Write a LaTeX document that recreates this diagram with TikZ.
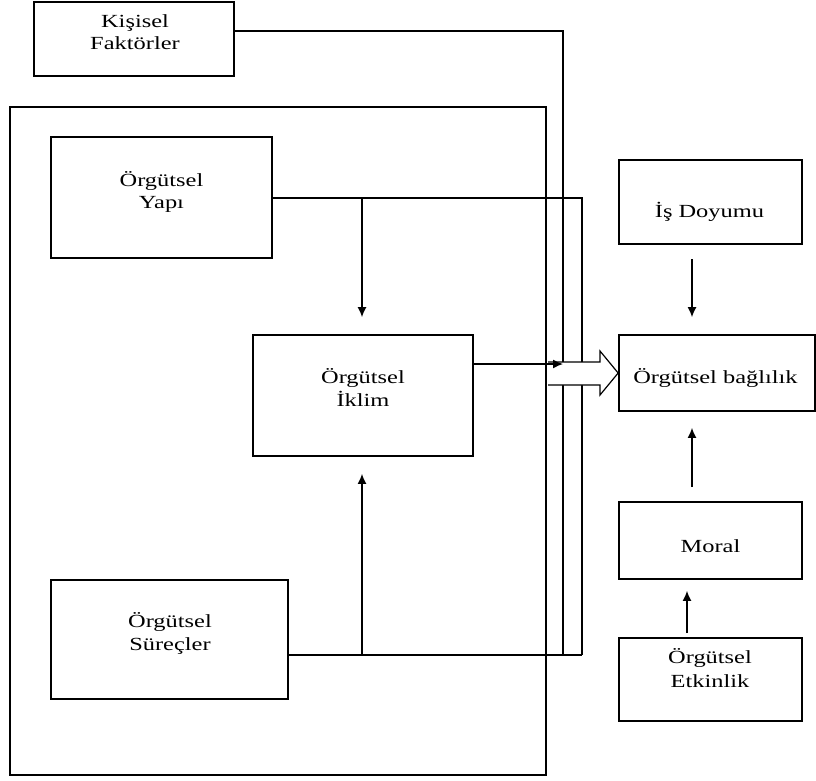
\documentclass[tikz,border=0pt]{standalone}
\usepackage{fontspec}
\setmainfont{Liberation Serif}[FakeStretch=1.32]
\usetikzlibrary{arrows.meta}
\begin{document}
\begin{tikzpicture}[x=1pt,y=-1pt,
  box/.style={draw,line width=1.7pt,inner sep=0pt,rectangle},
  lbl/.style={anchor=base,inner sep=0pt,font=\fontsize{18.5}{22}\selectfont},
  conn/.style={line width=1.5pt},
  arr/.style={line width=1.4pt,-{Latex[length=10pt,width=9pt]}},
  hollow/.style={line width=1.2pt}]
\useasboundingbox (0,0) rectangle (816,780);
% boxes
\node[box,minimum width=536pt,minimum height=668pt] (big) at (278,441) {};
\node[box,minimum width=200pt,minimum height=74pt] (kisisel) at (134,39) {};
\node[box,minimum width=221pt,minimum height=121pt] (yapi) at (161.5,197.5) {};
\node[box,minimum width=220pt,minimum height=121pt] (iklim) at (363,395.5) {};
\node[box,minimum width=237pt,minimum height=119pt] (surec) at (169.5,639.5) {};
\node[box,minimum width=183pt,minimum height=84pt] (doyum) at (710.5,202) {};
\node[box,minimum width=196pt,minimum height=76pt] (bagli) at (717,373) {};
\node[box,minimum width=183pt,minimum height=77pt] (moral) at (710.5,540.5) {};
\node[box,minimum width=183pt,minimum height=83pt] (etkin) at (710.5,679.5) {};
% texts
\node[lbl] (kisiselA) at (135,27) {Kişisel};
\node[lbl] (kisiselB) at (135,49) {Faktörler};
\node[lbl] (yapiA) at (161.5,186) {Örgütsel};
\node[lbl] (yapiB) at (161.5,208) {Yapı};
\node[lbl] (iklimA) at (363,383) {Örgütsel};
\node[lbl] (iklimB) at (363,406) {İklim};
\node[lbl] (surecA) at (170,627) {Örgütsel};
\node[lbl] (surecB) at (170,650) {Süreçler};
\node[lbl] (doyumT) at (709.5,217) {İş Doyumu};
\node[lbl] (bagliT) at (715.5,383) {Örgütsel bağlılık};
\node[lbl] (moralT) at (710.5,552) {Moral};
\node[lbl] (etkinA) at (710,663) {Örgütsel};
\node[lbl] (etkinB) at (710,687) {Etkinlik};
% coordinates
\coordinate (kx) at (563,31);
\coordinate (ky) at (563,655);
\coordinate (yx) at (582,198);
\coordinate (yb) at (582,655);
\coordinate (yj) at (362,198);
\coordinate (sj) at (362,655);
\coordinate (ia) at (563,364);
\coordinate (d1) at (692,259);
\coordinate (m1) at (692,487);
\coordinate (e1) at (687,633);
% connectors
\draw[conn] (kisisel.east |- kx) -- (kx) -- (ky);
\draw[conn] (yapi.east |- yx) -- (yx) -- (yb);
\draw[conn] (surec.east |- yb) -- (yb);
\draw[arr,shorten >=17pt] (yj) -- (iklim.north -| yj);
\draw[arr,shorten >=17pt] (sj) -- (iklim.south -| sj);
% hollow arrow
\coordinate (h0) at (548,362);
\fill[white] (h0) -- (600,362) -- (600,351) -- (bagli.west) -- (600,395) -- (600,385) -- (548,385) -- cycle;
\draw[hollow] (h0) -- (600,362) -- (600,351) -- (bagli.west) -- (600,395) -- (600,385) -- (548,385);
\draw[arr] (iklim.east |- ia) -- (ia);
% right column arrows
\draw[arr,shorten >=17pt] (d1) -- (d1 |- bagli.north);
\draw[arr,shorten >=16pt] (m1) -- (m1 |- bagli.south);
\draw[arr,shorten >=11pt] (e1) -- (e1 |- moral.south);
\end{tikzpicture}
\end{document}
